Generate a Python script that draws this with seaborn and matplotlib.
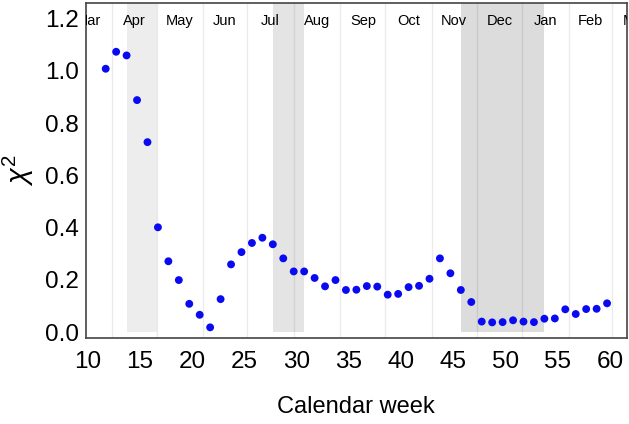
import numpy as np
import pandas as pd
import matplotlib
matplotlib.use("Agg")
import matplotlib.pyplot as plt
import seaborn as sns
from matplotlib.ticker import MultipleLocator

# ---- data ----
weeks = list(range(11, 60))
week_offset = 0.73  # points plotted mid-week
chi2 = [1.008, 1.073, 1.059, 0.888, 0.727, 0.401, 0.271, 0.199, 0.108, 0.066,
        0.018, 0.126, 0.259, 0.306, 0.341, 0.361, 0.336, 0.282, 0.232, 0.232,
        0.207, 0.175, 0.199, 0.161, 0.162, 0.176, 0.174, 0.143, 0.146, 0.172,
        0.177, 0.204, 0.282, 0.225, 0.161, 0.115, 0.040, 0.037, 0.038, 0.045,
        0.040, 0.038, 0.051, 0.052, 0.087, 0.069, 0.088, 0.089, 0.110]

month_names = ["Mar", "Apr", "May", "Jun", "Jul", "Aug", "Sep", "Oct",
               "Nov", "Dec", "Jan", "Feb", "Mar"]
month_starts = [7.9, 12.3, 16.6, 21.0, 25.3, 29.75, 34.2, 38.5, 42.95,
                47.25, 51.6, 56.05, 60.2, 64.6]

band_starts = [13.73, 27.73, 45.74]
band_ends = [16.65, 30.72, 53.73]
band_colors = ["#ededed", "#e4e4e4", "#dcdcdc"]

df = pd.DataFrame({"week": [w + week_offset for w in weeks], "chi2": chi2})

# ---- style ----
sns.set_style("white")
plt.rcParams["font.family"] = ["Liberation Sans", "DejaVu Sans"]
plt.rcParams["mathtext.fontset"] = "custom"
plt.rcParams["mathtext.rm"] = "Liberation Sans"
plt.rcParams["mathtext.it"] = "Liberation Sans:italic"
plt.rcParams["text.color"] = "black"
plt.rcParams["axes.labelcolor"] = "black"

fig = plt.figure(figsize=(6.29, 4.24), dpi=100)
ax = fig.add_axes([0.136, 0.2021, 0.861, 0.791])

xlo, xhi = 9.8, 61.65
ylo, yhi = -0.024, 1.26
ax.set_xlim(xlo, xhi)
ax.set_ylim(ylo, yhi)

ymin_frac = (0 - ylo) / (yhi - ylo)
for s, e, c in zip(band_starts, band_ends, band_colors):
    ax.axvspan(s, e, ymin=ymin_frac, ymax=1, color=c, lw=0, zorder=0)

for m in month_starts:
    ax.axvline(m, color="black", alpha=0.08, lw=1, zorder=1)

for name, a, b in zip(month_names, month_starts[:-1], month_starts[1:]):
    ax.text((a + b) / 2, 0.947, name, transform=ax.get_xaxis_transform(),
            ha="center", va="center", fontsize=10.5, color="black",
            clip_on=True, zorder=3)

sns.scatterplot(data=df, x="week", y="chi2", ax=ax, color="#0a0af0",
                s=32, edgecolor="none", zorder=4)

ax.xaxis.set_major_locator(MultipleLocator(5))
ax.yaxis.set_minor_locator(MultipleLocator(0.05))
ax.set_yticks(np.arange(0, 1.21, 0.2))
ax.set_yticklabels([f"{v:.1f}" for v in np.arange(0, 1.21, 0.2)])
ax.tick_params(axis="both", which="major", direction="in", length=5,
               width=1, color="#333333", labelsize=17.5, labelcolor="black")
ax.tick_params(axis="x", which="major", pad=9)
ax.tick_params(axis="y", which="major", pad=5)
ax.tick_params(axis="y", which="minor", direction="in", length=3,
               width=0.8, color="#333333")
ax.tick_params(top=False, right=False)

for sp in ax.spines.values():
    sp.set_visible(True)
    sp.set_color("#444444")
    sp.set_linewidth(1.2)

ax.set_xlabel("Calendar week", fontsize=17, labelpad=17)
ax.set_ylabel(r"$\chi^2$", fontsize=21, labelpad=6)

fig.savefig("out.png", dpi=100)
